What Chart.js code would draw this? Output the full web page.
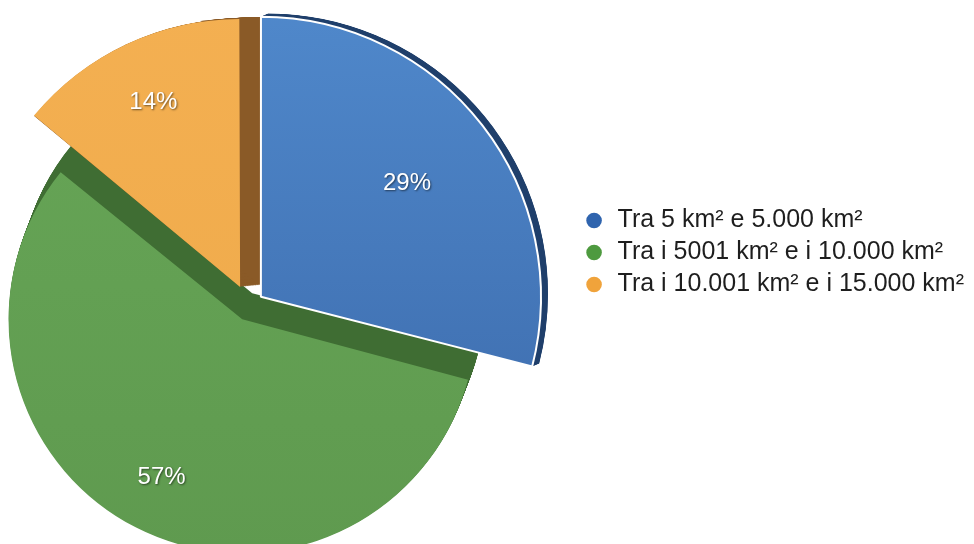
<!DOCTYPE html>
<html>
<head>
<meta charset="utf-8">
<script src="https://cdn.jsdelivr.net/npm/chart.js@4.4.1/dist/chart.umd.min.js"></script>
<style>
  html, body { margin: 0; padding: 0; background: #fff; overflow: hidden; }
  /* wider than the window so the pie can sit further left */
  #wrap { width: 1052px; height: 544px; margin-left: -78px; position: relative; }
</style>
</head>
<body>
<div id="wrap"><canvas id="chart"></canvas></div>
<script>
const labels = ['Tra 5 km² e 5.000 km²', 'Tra i 5001 km² e i 10.000 km²', 'Tra i 10.001 km² e i 15.000 km²'];
const shares = [29, 57, 14];

const faceTop = ['#5089cc', '#67a657', '#f4b052'];
const faceBottom = ['#3b69aa', '#5f9a4f', '#eea949'];
const sideColors = ['#1f3f6b', '#3f6d33', '#8a5a27'];
const legendColors = ['#2f64ae', '#4e9a3f', '#f0a33b'];
const sliceOffsets = [60, 60, 84];          // exploded slices
const radiusScale = [0.514, 0.402, 0.484];  // fake perspective, share of canvas height
const depth = [[7, -3], [10, -26], [20, -2]]; // extrusion of each slice
const labelDist = [0.66, 0.76, 0.76];
const fontFamily = "'Liberation Sans', Arial, Helvetica, sans-serif";

// same geometry the arc element uses when it is offset
function drawnArc(arc) {
  const mid = (arc.startAngle + arc.endAngle) / 2;
  const shift = (arc.options.offset || 0) / 4;
  const circ = arc.endAngle - arc.startAngle;
  const r = arc.outerRadius + shift * (1 - Math.sin(Math.min(Math.PI, circ)));
  return { mid, shift, r, cx: arc.x + Math.cos(mid) * shift, cy: arc.y + Math.sin(mid) * shift };
}

function faceColor(c) {
  const chart = c.chart;
  const i = c.dataIndex;
  if (i === undefined) return faceTop[0];
  const g = chart.ctx.createLinearGradient(0, 0, 0, chart.height);
  g.addColorStop(0, faceTop[i]);
  g.addColorStop(1, faceBottom[i]);
  return g;
}

// draws the dark sides under each slice and the % labels on top
const pieLook = {
  id: 'pieLook',
  afterDatasetUpdate(chart, args) {
    args.meta.data.forEach((arc, i) => {
      arc.outerRadius = chart.height * radiusScale[i];
    });
  },
  beforeDatasetsDraw(chart) {
    const ctx = chart.ctx;
    const meta = chart.getDatasetMeta(0);
    [1, 2, 0].forEach(i => {
      const arc = meta.data[i];
      const g = drawnArc(arc);
      ctx.save();
      ctx.fillStyle = sideColors[i];
      const steps = 30;
      for (let k = 1; k <= steps; k++) {
        const dx = depth[i][0] * k / steps;
        const dy = depth[i][1] * k / steps;
        ctx.beginPath();
        ctx.moveTo(g.cx + dx, g.cy + dy);
        ctx.arc(g.cx + dx, g.cy + dy, g.r, arc.startAngle, arc.endAngle);
        ctx.closePath();
        ctx.fill();
      }
      ctx.restore();
    });
  },
  afterDatasetsDraw(chart) {
    const ctx = chart.ctx;
    const meta = chart.getDatasetMeta(0);
    const total = shares.reduce((a, b) => a + b, 0);
    ctx.save();
    ctx.font = '24px ' + fontFamily;
    ctx.textAlign = 'center';
    ctx.textBaseline = 'middle';
    ctx.fillStyle = '#ffffff';
    ctx.shadowColor = 'rgba(0,0,0,0.55)';
    ctx.shadowBlur = 2;
    ctx.shadowOffsetX = 1;
    ctx.shadowOffsetY = 1;
    meta.data.forEach((arc, i) => {
      const g = drawnArc(arc);
      const d = g.r * labelDist[i];
      ctx.fillText(Math.round(shares[i] / total * 100) + '%', g.cx + Math.cos(g.mid) * d, g.cy + Math.sin(g.mid) * d);
    });
    ctx.restore();
  }
};

new Chart(document.getElementById('chart'), {
  type: 'pie',
  data: {
    labels: labels,
    datasets: [{
      data: shares,
      backgroundColor: faceColor,
      borderColor: '#ffffff',
      borderWidth: [2, 0, 0],
      offset: sliceOffsets,
      clip: false
    }]
  },
  options: {
    responsive: true,
    maintainAspectRatio: false,
    animation: false,
    layout: { padding: { left: 0, right: 0, top: 201, bottom: 133 } },
    plugins: {
      legend: {
        position: 'right',
        align: 'start',
        labels: {
          usePointStyle: true,
          pointStyle: 'circle',
          boxWidth: 22,
          boxHeight: 11,
          padding: 7,
          color: '#1e1e1e',
          font: { size: 25, family: fontFamily },
          generateLabels(chart) {
            const items = Chart.overrides.pie.plugins.legend.labels.generateLabels(chart);
            items.forEach((it, i) => {
              it.fillStyle = legendColors[i];
              it.strokeStyle = legendColors[i];
              it.lineWidth = 0;
            });
            return items;
          }
        }
      },
      tooltip: { enabled: false }
    }
  },
  plugins: [pieLook]
});
</script>
</body>
</html>
